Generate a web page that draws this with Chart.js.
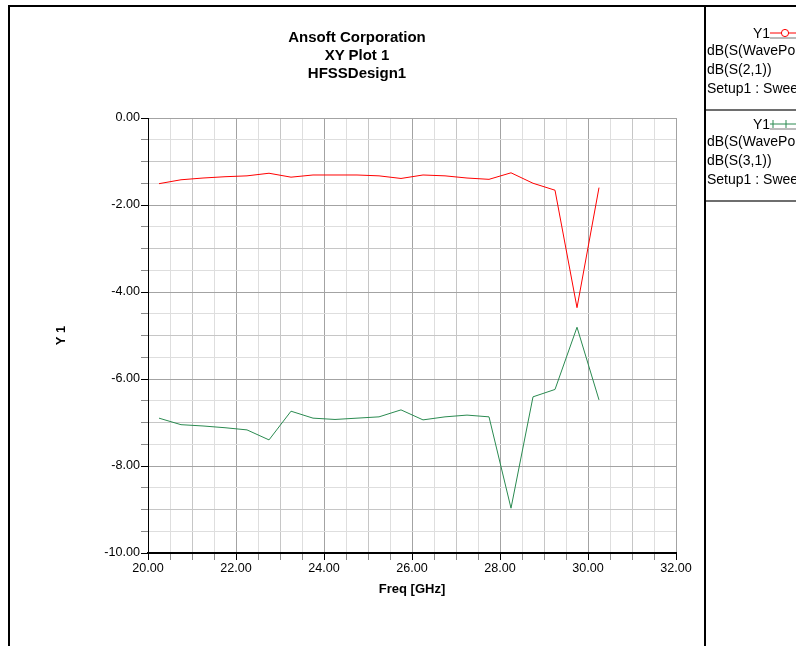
<!DOCTYPE html>
<html>
<head>
<meta charset="utf-8">
<script src="https://cdn.jsdelivr.net/npm/chart.js@4.4.1/dist/chart.umd.min.js"></script>
<style>
html,body{margin:0;padding:0;background:#fff;width:796px;height:646px;overflow:hidden;font-family:"Liberation Sans",Arial,sans-serif;color:#000;}
#wrap{position:relative;width:796px;height:646px;overflow:hidden;}
#c{position:absolute;left:0;top:0;}
.bar{position:absolute;background:#000;}
.ttl{position:absolute;left:8px;width:698px;text-align:center;font-weight:bold;font-size:15px;line-height:18px;white-space:nowrap;}
.lg{position:absolute;left:707px;font-size:14px;line-height:16px;white-space:nowrap;}
.lgy{position:absolute;font-size:14px;line-height:16px;}
.lsep{position:absolute;left:706px;width:90px;height:2px;background:#6e6e6e;}
svg.mk{position:absolute;left:770px;}
</style>
</head>
<body>
<div id="wrap">
<canvas id="c" width="796" height="646"></canvas>
<div class="bar" style="left:8px;top:5px;width:788px;height:2px;"></div>
<div class="bar" style="left:8px;top:5px;width:2px;height:641px;"></div>
<div class="bar" style="left:704px;top:5px;width:2px;height:641px;"></div>
<div id="titles"></div>
<div id="legend"></div>
</div>
<script>
// ---- data ----
const titleLines = ['Ansoft Corporation', 'XY Plot 1', 'HFSSDesign1'];
const freqGHz = [20.25, 20.75, 21.25, 21.75, 22.25, 22.75, 23.25, 23.75, 24.25, 24.75, 25.25,
                 25.75, 26.25, 26.75, 27.25, 27.75, 28.25, 28.75, 29.25, 29.75, 30.25];
const dB_S21 = [-1.51, -1.42, -1.38, -1.35, -1.33, -1.27, -1.36, -1.31, -1.31, -1.31, -1.33,
                -1.39, -1.31, -1.33, -1.38, -1.41, -1.26, -1.50, -1.66, -4.36, -1.60];
const dB_S31 = [-6.90, -7.05, -7.08, -7.12, -7.17, -7.40, -6.74, -6.90, -6.93, -6.90, -6.87,
                -6.71, -6.94, -6.87, -6.83, -6.87, -8.97, -6.41, -6.24, -4.81, -6.48];
const xTickLabels = [20, 22, 24, 26, 28, 30, 32];
const yTickLabels = [0, -2, -4, -6, -8, -10];
const seriesNames = ['dB(S(WavePort2,WavePort1))', 'dB(S(WavePort3,WavePort1))'];
const seriesShort = ['dB(S(2,1))', 'dB(S(3,1))'];
const seriesSetup = ['Setup1 : Sweep1', 'Setup1 : Sweep1'];
const seriesAxis = ['Y1', 'Y1'];
const seriesColors = ['#ff0000', '#2a8a50'];
const seriesMarkers = ['circle', 'cross'];

// ---- titles ----
const titleCenters = [37, 55, 73];
const tEl = document.getElementById('titles');
titleLines.forEach((t, i) => {
  const d = document.createElement('div');
  d.className = 'ttl'; d.style.top = (titleCenters[i] - 9) + 'px'; d.textContent = t;
  tEl.appendChild(d);
});

// ---- chart ----
function gridCol(v) {
  if (Math.abs(v % 2) < 1e-9) return '#a3a3a3';
  if (Math.abs(v % 1) < 1e-9) return '#c6c6c6';
  return '#dedede';
}
function tickCol(v) {
  return Math.abs(v % 2) < 1e-9 ? '#000000' : '#8a8a8a';
}
const datasets = [dB_S21, dB_S31].map((vals, i) => ({
  label: seriesNames[i],
  data: freqGHz.map((f, k) => ({x: f, y: vals[k]})),
  borderColor: seriesColors[i],
  backgroundColor: seriesColors[i],
  borderWidth: 1,
  pointRadius: 0,
  tension: 0,
  fill: false
}));

new Chart(document.getElementById('c'), {
  type: 'line',
  data: {datasets},
  options: {
    responsive: false,
    animation: false,
    events: [],
    layout: {padding: {top: 118, right: 120, bottom: 0, left: 0}},
    plugins: {legend: {display: false}, tooltip: {enabled: false}, title: {display: false}},
    scales: {
      x: {
        type: 'linear', min: 20, max: 32,
        afterFit(s) { s.height = 93; },
        ticks: {
          stepSize: 0.5, autoSkip: false, maxRotation: 0, padding: 1,
          color: '#000', font: {family: '"Liberation Sans", Arial, sans-serif', size: 12.6},
          callback: v => xTickLabels.includes(v) ? v.toFixed(2) : ''
        },
        grid: {
          color: c => gridCol(c.tick.value), lineWidth: 1,
          tickLength: 7, tickColor: c => tickCol(c.tick.value)
        },
        border: {color: '#000', width: 2},
        title: {
          display: true, text: 'Freq [GHz]', color: '#000',
          font: {family: '"Liberation Sans", Arial, sans-serif', size: 13, weight: 'bold'},
          padding: {top: 0, bottom: 49}
        }
      },
      y: {
        type: 'linear', min: -10, max: 0,
        afterFit(s) { s.width = 148; },
        ticks: {
          stepSize: 0.5, autoSkip: false, padding: 1,
          color: '#000', font: {family: '"Liberation Sans", Arial, sans-serif', size: 12.6},
          callback: v => yTickLabels.includes(v) ? v.toFixed(2) : ''
        },
        grid: {
          color: c => gridCol(c.tick.value), lineWidth: 1,
          tickLength: 7, tickColor: c => tickCol(c.tick.value)
        },
        border: {color: '#000', width: 1},
        title: {
          display: true, text: 'Y 1', color: '#000',
          font: {family: '"Liberation Sans", Arial, sans-serif', size: 13, weight: 'bold'},
          padding: {top: 54, bottom: 0}
        }
      }
    }
  }
});

// ---- legend (built from series) ----
const lEl = document.getElementById('legend');
const rowCenters = [33, 124];
const sepYs = [109, 200];
seriesNames.forEach((name, i) => {
  const cy = rowCenters[i];
  const y1 = document.createElement('div');
  y1.className = 'lgy'; y1.style.left = '753px'; y1.style.top = (cy - 8) + 'px';
  y1.textContent = seriesAxis[i];
  lEl.appendChild(y1);
  let mk = '';
  if (seriesMarkers[i] === 'circle') {
    mk = `<circle cx="15" cy="8" r="3.6" fill="#fff" stroke="${seriesColors[i]}" stroke-width="1"/>`;
  } else {
    mk = `<line x1="3" y1="4" x2="3" y2="12" stroke="${seriesColors[i]}"/><line x1="16" y1="4" x2="16" y2="12" stroke="${seriesColors[i]}"/>`;
  }
  const svg = document.createElementNS('http://www.w3.org/2000/svg', 'svg');
  svg.setAttribute('class', 'mk'); svg.setAttribute('width', '26'); svg.setAttribute('height', '16');
  svg.style.top = (cy - 8) + 'px';
  svg.innerHTML = `<line x1="0" y1="8" x2="26" y2="8" stroke="${seriesColors[i]}" stroke-width="1"/>${mk}<line x1="0" y1="13" x2="26" y2="13" stroke="#777" stroke-width="1"/>`;
  lEl.appendChild(svg);
  [name, seriesShort[i], seriesSetup[i]].forEach((t, k) => {
    const d = document.createElement('div');
    d.className = 'lg'; d.style.top = (cy + 16.5 + k * 19 - 8) + 'px';
    d.textContent = t;
    lEl.appendChild(d);
  });
  const s = document.createElement('div');
  s.className = 'lsep'; s.style.top = sepYs[i] + 'px';
  lEl.appendChild(s);
});
</script>
</body>
</html>
